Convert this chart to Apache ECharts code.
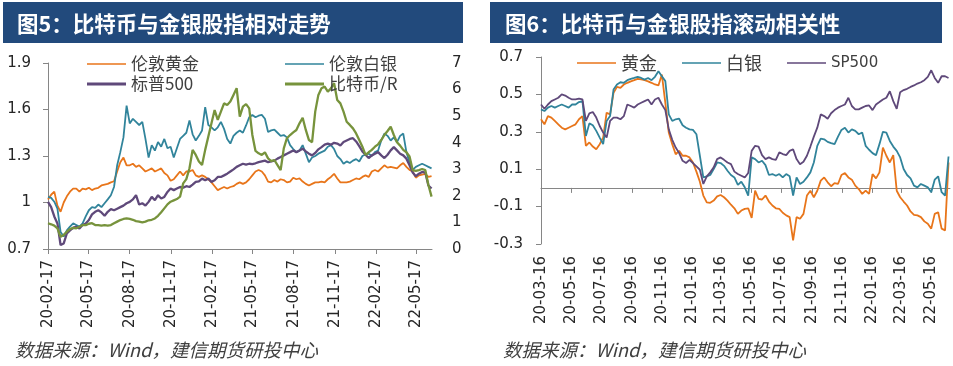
<!DOCTYPE html>
<html><head><meta charset="utf-8">
<script src="https://cdn.jsdelivr.net/npm/echarts@6/dist/echarts.min.js"></script>
<style>html,body{margin:0;padding:0;background:#fff}#c{width:953px;height:366px}</style>
</head><body><div id="c"></div>
<script>
// ---------- data ----------
const leftStart = '20-02-17';   // first weekly point, left chart
const rightStart = '20-03-16';  // first weekly point, right chart
const leftTickLabels = ['20-02-17','20-05-17','20-08-17','20-11-17','21-02-17','21-05-17','21-08-17','21-11-17','22-02-17','22-05-17'];
const rightTickLabels = ['20-03-16','20-05-16','20-07-16','20-09-16','20-11-16','21-01-16','21-03-16','21-05-16','21-07-16','21-09-16','21-11-16','22-01-16','22-03-16','22-05-16'];
const leftNames = ['伦敦黄金','伦敦白银','标普500','比特币/R'];
const rightNames = ['黄金','白银','SP500'];

// weekly values (left chart, relative performance)
const goldL = [1.02,1.05,1.07,0.98,0.94,1.00,1.04,1.07,1.09,1.09,1.07,1.09,1.085,1.095,1.08,1.09,1.095,1.11,1.115,1.12,1.13,1.137,1.20,1.26,1.29,1.24,1.24,1.25,1.23,1.24,1.22,1.20,1.21,1.22,1.20,1.21,1.22,1.19,1.175,1.14,1.15,1.175,1.20,1.175,1.20,1.20,1.21,1.175,1.165,1.175,1.165,1.15,1.13,1.105,1.08,1.09,1.10,1.09,1.10,1.105,1.12,1.13,1.12,
 1.13,1.15,1.175,1.20,1.21,1.20,1.175,1.135,1.13,1.145,1.135,1.15,1.145,1.13,1.135,1.16,1.15,1.155,1.135,1.12,1.11,1.12,1.13,1.13,1.135,1.13,1.15,1.165,1.185,1.155,1.13,1.13,1.13,1.135,1.145,1.155,1.15,1.165,1.175,1.165,1.20,1.21,1.20,1.22,1.24,1.225,1.23,1.225,1.22,1.24,1.255,1.23,1.21,1.20,1.16,1.175,1.18,1.185,1.165,1.17];
const silverL = [1.036,1.03,1.005,0.96,0.81,0.78,0.82,0.845,0.865,0.855,0.845,0.865,0.91,0.95,0.97,0.965,0.987,0.97,0.995,1.02,1.047,1.10,1.24,1.325,1.42,1.625,1.51,1.54,1.52,1.50,1.52,1.41,1.29,1.37,1.335,1.39,1.36,1.41,1.35,1.36,1.29,1.35,1.41,1.43,1.45,1.53,1.44,1.40,1.43,1.465,1.615,1.50,1.485,1.465,1.485,1.52,1.475,1.41,1.38,1.43,1.45,1.465,1.45,
 1.497,1.55,1.565,1.55,1.56,1.565,1.54,1.455,1.465,1.47,1.45,1.43,1.435,1.42,1.37,1.345,1.325,1.335,1.37,1.315,1.26,1.29,1.30,1.315,1.325,1.335,1.36,1.37,1.345,1.30,1.28,1.25,1.265,1.255,1.27,1.28,1.265,1.30,1.31,1.315,1.30,1.325,1.335,1.40,1.445,1.43,1.40,1.42,1.39,1.43,1.445,1.325,1.26,1.21,1.23,1.24,1.25,1.24,1.23,1.22];
const spxL = [1.004,0.97,0.91,0.865,0.726,0.736,0.80,0.82,0.837,0.844,0.833,0.855,0.865,0.887,0.923,0.94,0.95,0.936,0.914,0.94,0.957,0.95,0.96,0.97,0.98,0.995,1.004,1.02,1.047,0.987,0.995,0.98,1.004,1.036,1.015,1.047,1.026,1.036,1.068,1.09,1.08,1.09,1.10,1.096,1.105,1.10,1.115,1.133,1.137,1.154,1.143,1.154,1.133,1.143,1.165,1.165,1.175,1.186,1.20,1.214,1.23,1.24,1.25,
 1.244,1.25,1.248,1.253,1.26,1.265,1.27,1.26,1.265,1.27,1.283,1.293,1.304,1.315,1.325,1.336,1.325,1.336,1.347,1.33,1.315,1.304,1.32,1.343,1.357,1.373,1.38,1.373,1.385,1.38,1.368,1.39,1.40,1.41,1.415,1.394,1.364,1.33,1.308,1.287,1.304,1.315,1.325,1.304,1.287,1.308,1.336,1.357,1.336,1.315,1.304,1.283,1.24,1.193,1.17,1.186,1.197,1.193,1.11,1.09];
const btcL = [0.97,0.93,0.88,0.78,0.46,0.53,0.65,0.75,0.80,0.78,0.84,0.90,0.90,0.95,0.97,0.90,0.90,0.88,0.90,0.88,0.90,0.97,1.03,1.09,1.13,1.15,1.13,1.10,1.05,1.03,1.00,1.03,1.08,1.10,1.15,1.25,1.38,1.53,1.68,1.78,1.83,1.88,1.97,2.47,2.63,3.04,3.73,3.54,3.29,3.16,3.73,4.23,4.73,5.23,4.86,5.17,5.48,5.42,5.55,5.80,6.05,4.98,5.36,
 5.45,5.29,4.29,3.69,3.60,3.54,3.64,3.41,3.31,3.35,3.16,2.97,3.79,4.17,4.29,4.39,4.48,4.73,4.94,4.48,4.10,4.02,5.17,5.80,6.05,6.11,5.92,6.05,6.24,5.61,5.48,5.17,4.79,4.67,4.54,4.35,4.10,3.85,3.54,3.64,3.73,3.85,3.94,4.10,4.29,4.44,4.60,4.29,4.02,3.89,3.73,3.64,3.48,2.97,2.94,2.97,3.01,2.97,2.41,1.97];

// weekly values (right chart, rolling correlation)
const goldR = [0.367,0.34,0.384,0.376,0.358,0.34,0.322,0.313,0.322,0.331,0.34,0.367,0.384,0.225,0.243,0.221,0.207,0.234,0.269,0.402,0.393,0.508,0.54,0.535,0.553,0.562,0.57,0.576,0.583,0.58,0.576,0.57,0.562,0.553,0.548,0.606,0.455,0.296,0.234,0.18,0.198,0.172,0.172,0.163,0.136,0.087,0.033,-0.041,-0.077,-0.08,-0.068,-0.045,-0.038,-0.05,-0.068,-0.09,-0.109,-0.139,-0.121,-0.112,-0.109,
 -0.16,-0.015,-0.059,-0.062,-0.041,-0.073,-0.094,-0.109,-0.112,-0.133,-0.147,-0.156,-0.28,-0.156,-0.165,-0.139,-0.041,-0.015,-0.05,-0.015,0.039,0.056,0.03,0.009,0.026,0.021,0.069,0.079,0.056,0.044,0.012,-0.006,-0.032,-0.015,-0.032,0.074,0.051,0.083,0.216,0.172,0.136,0.175,-0.015,-0.05,-0.073,-0.094,-0.126,-0.144,-0.147,-0.156,-0.179,-0.192,-0.218,-0.139,-0.13,-0.218,-0.227,0.136];
const silverR = [0.42,0.411,0.429,0.438,0.429,0.438,0.446,0.438,0.429,0.446,0.446,0.459,0.464,0.278,0.345,0.335,0.305,0.269,0.234,0.358,0.384,0.526,0.553,0.565,0.562,0.576,0.583,0.588,0.594,0.588,0.579,0.588,0.576,0.594,0.624,0.597,0.571,0.393,0.358,0.367,0.37,0.335,0.322,0.313,0.31,0.287,0.172,0.056,0.062,0.069,0.101,0.136,0.133,0.118,0.092,0.069,0.056,0.016,0.033,0.003,-0.041,
 0.163,0.154,0.136,0.145,0.122,0.069,0.074,0.065,0.074,0.056,0.074,0.062,-0.041,0.056,0.021,0.033,0.056,0.083,0.136,0.225,0.264,0.26,0.246,0.239,0.234,0.274,0.31,0.322,0.296,0.313,0.305,0.287,0.296,0.225,0.204,0.186,0.175,0.234,0.30,0.296,0.251,0.221,0.198,0.163,0.101,0.069,0.051,0.012,0.003,0.021,0.012,0.003,-0.023,0.044,0.062,-0.023,-0.041,0.168];
const spxR = [0.446,0.423,0.446,0.464,0.473,0.482,0.50,0.494,0.482,0.473,0.473,0.477,0.473,0.358,0.399,0.406,0.376,0.331,0.296,0.269,0.358,0.376,0.376,0.367,0.384,0.446,0.438,0.429,0.446,0.455,0.464,0.473,0.446,0.473,0.482,0.446,0.416,0.313,0.257,0.216,0.186,0.145,0.133,0.15,0.133,0.115,0.097,0.021,0.062,0.083,0.11,0.154,0.163,0.15,0.136,0.127,0.087,0.074,0.065,0.056,0.08,
 0.198,0.225,0.221,0.175,0.154,0.163,0.154,0.15,0.19,0.181,0.175,0.198,0.207,0.154,0.127,0.14,0.172,0.221,0.274,0.322,0.393,0.384,0.37,0.399,0.416,0.429,0.438,0.446,0.482,0.438,0.42,0.42,0.429,0.438,0.441,0.416,0.446,0.459,0.473,0.482,0.517,0.464,0.423,0.512,0.523,0.53,0.54,0.548,0.558,0.565,0.576,0.594,0.629,0.588,0.562,0.597,0.597,0.588];

// ---------- helpers ----------
function toUTC(s){const p=s.split('-').map(Number);return Date.UTC(2000+p[0],p[1]-1,p[2]);}
function dayOf(s,start){return Math.round((toUTC(s)-toUTC(start))/86400000);}
const leftTickDays = leftTickLabels.map(s=>dayOf(s,leftStart));
const rightTickDays = rightTickLabels.map(s=>dayOf(s,rightStart));
function weekly(arr){return arr.map((v,i)=>[i*7,v]);}
function labelFor(days,labels){return v=>{const i=days.findIndex(d=>Math.abs(d-v)<0.5);return i>=0?labels[i]:'';};}

const C = {gold:'#E8751A', silver:'#31849B', spx:'#5F497A', btc:'#77933C', axis:'#868686', text:'#262626', legend:'#404040', bar:'#224A7C'};
const numFont = 'DejaVu Sans';
const cjk = 'Noto Sans CJK SC';

const chart = echarts.init(document.getElementById('c'), null, {renderer:'canvas'});

function leg(name, left, top, color, h, fs, ff){
  return {data:[name], left:left, top:top, icon:'rect', itemWidth:39, itemHeight:h, selectedMode:false,
    itemStyle:{color:color}, textStyle:{fontSize:fs, color:C.legend, fontFamily:ff, lineHeight:20}, padding:0};
}

const option = {
  animation:false,
  backgroundColor:'#fff',
  grid:[
    {left:48, top:63, width:384, height:186},
    {left:541, top:57, width:409, height:187}
  ],
  legend:[
    leg(leftNames[0], 87, 54, C.gold, 1.5, 17, cjk),
    leg(leftNames[1], 285, 54, C.silver, 1.5, 17, cjk),
    leg(leftNames[2], 87, 74, C.spx, 3, 17, cjk),
    leg(leftNames[3], 285, 74, C.btc, 3, 17, cjk),
    leg(rightNames[0], 577, 53, C.gold, 1.5, 18, cjk),
    leg(rightNames[1], 682, 53, C.silver, 1.5, 18, cjk),
    leg(rightNames[2], 787, 53, C.spx, 1.5, 15, numFont)
  ],
  xAxis:[
    {gridIndex:0, type:'value', min:0, max:855,
      axisLine:{show:true, onZero:false, lineStyle:{color:C.axis, width:1}},
      axisTick:{show:true, customValues:leftTickDays, length:5, lineStyle:{color:C.axis}},
      axisLabel:{customValues:leftTickDays, rotate:90, margin:11, fontSize:15, color:C.text, fontFamily:numFont,
        formatter:labelFor(leftTickDays,leftTickLabels)},
      splitLine:{show:false}},
    {gridIndex:1, type:'value', min:0, max:829, position:'bottom',
      axisLine:{show:false, onZero:false},
      axisTick:{show:false},
      axisLabel:{customValues:rightTickDays, rotate:90, margin:12, fontSize:15, color:C.text, fontFamily:numFont,
        formatter:labelFor(rightTickDays,rightTickLabels)},
      splitLine:{show:false}},
    {gridIndex:1, type:'value', min:0, max:829, position:'top',
      axisLine:{show:true, onZero:true, onZeroAxisIndex:2, lineStyle:{color:C.axis, width:1}},
      axisTick:{show:true, inside:true, length:5, customValues:rightTickDays.slice(1), lineStyle:{color:C.axis}},
      axisLabel:{show:false},
      splitLine:{show:false}}
  ],
  yAxis:[
    {gridIndex:0, type:'value', min:0.7, max:1.9, interval:0.3,
      axisLine:{show:true, lineStyle:{color:C.axis}},
      axisTick:{show:true, length:5, lineStyle:{color:C.axis}},
      axisLabel:{margin:17, fontSize:15, color:C.text, fontFamily:numFont, formatter:v=>String(+v.toFixed(1))},
      splitLine:{show:false}},
    {gridIndex:0, type:'value', position:'right', min:0, max:7, interval:1,
      axisLine:{show:false}, axisTick:{show:false},
      axisLabel:{margin:20, fontSize:15, color:C.text, fontFamily:numFont},
      splitLine:{show:false}},
    {gridIndex:1, type:'value', min:-0.3, max:0.7, interval:0.2,
      axisLine:{show:true, onZero:false, lineStyle:{color:C.axis}},
      axisTick:{show:true, length:5, lineStyle:{color:C.axis}},
      axisLabel:{margin:18, fontSize:15, color:C.text, fontFamily:numFont, formatter:v=>(+v).toFixed(1)},
      splitLine:{show:false}}
  ],
  series:[
    {name:leftNames[0], type:'line', xAxisIndex:0, yAxisIndex:0, data:weekly(goldL), showSymbol:false, symbol:'none', lineStyle:{color:C.gold, width:1.8}, itemStyle:{color:C.gold}},
    {name:leftNames[1], type:'line', xAxisIndex:0, yAxisIndex:0, data:weekly(silverL), showSymbol:false, symbol:'none', lineStyle:{color:C.silver, width:1.8}, itemStyle:{color:C.silver}},
    {name:leftNames[2], type:'line', xAxisIndex:0, yAxisIndex:0, data:weekly(spxL), showSymbol:false, symbol:'none', lineStyle:{color:C.spx, width:2.3}, itemStyle:{color:C.spx}},
    {name:leftNames[3], type:'line', xAxisIndex:0, yAxisIndex:1, data:weekly(btcL), showSymbol:false, symbol:'none', lineStyle:{color:C.btc, width:2.3}, itemStyle:{color:C.btc}},
    {name:rightNames[0], type:'line', xAxisIndex:1, yAxisIndex:2, data:weekly(goldR), showSymbol:false, symbol:'none', lineStyle:{color:C.gold, width:1.8}, itemStyle:{color:C.gold}},
    {name:rightNames[1], type:'line', xAxisIndex:1, yAxisIndex:2, data:weekly(silverR), showSymbol:false, symbol:'none', lineStyle:{color:C.silver, width:1.8}, itemStyle:{color:C.silver}},
    {name:rightNames[2], type:'line', xAxisIndex:1, yAxisIndex:2, data:weekly(spxR), showSymbol:false, symbol:'none', lineStyle:{color:C.spx, width:1.8}, itemStyle:{color:C.spx}}
  ],
  graphic:[
    {type:'rect', shape:{x:3, y:2, width:460, height:41}, style:{fill:C.bar}, silent:true},
    {type:'rect', shape:{x:490, y:2, width:452, height:41}, style:{fill:C.bar}, silent:true},
    {type:'text', x:17, y:24, style:{text:'图5：比特币与金银股指相对走势', fill:'#fff', font:'bold 21.5px "Noto Sans CJK SC"', textVerticalAlign:'middle', verticalAlign:'middle'}, silent:true},
    {type:'text', x:505, y:24, style:{text:'图6：比特币与金银股指滚动相关性', fill:'#fff', font:'bold 21.5px "Noto Sans CJK SC"', textVerticalAlign:'middle', verticalAlign:'middle'}, silent:true},
    {type:'text', x:15, y:350, style:{text:'数据来源：Wind，建信期货研投中心', fill:'#404040', font:'italic 18.5px "Noto Sans CJK SC"', textVerticalAlign:'middle', verticalAlign:'middle'}, silent:true},
    {type:'text', x:503, y:350, style:{text:'数据来源：Wind，建信期货研投中心', fill:'#404040', font:'italic 18.5px "Noto Sans CJK SC"', textVerticalAlign:'middle', verticalAlign:'middle'}, silent:true}
  ]
};
chart.setOption(option);
</script>
</body></html>
